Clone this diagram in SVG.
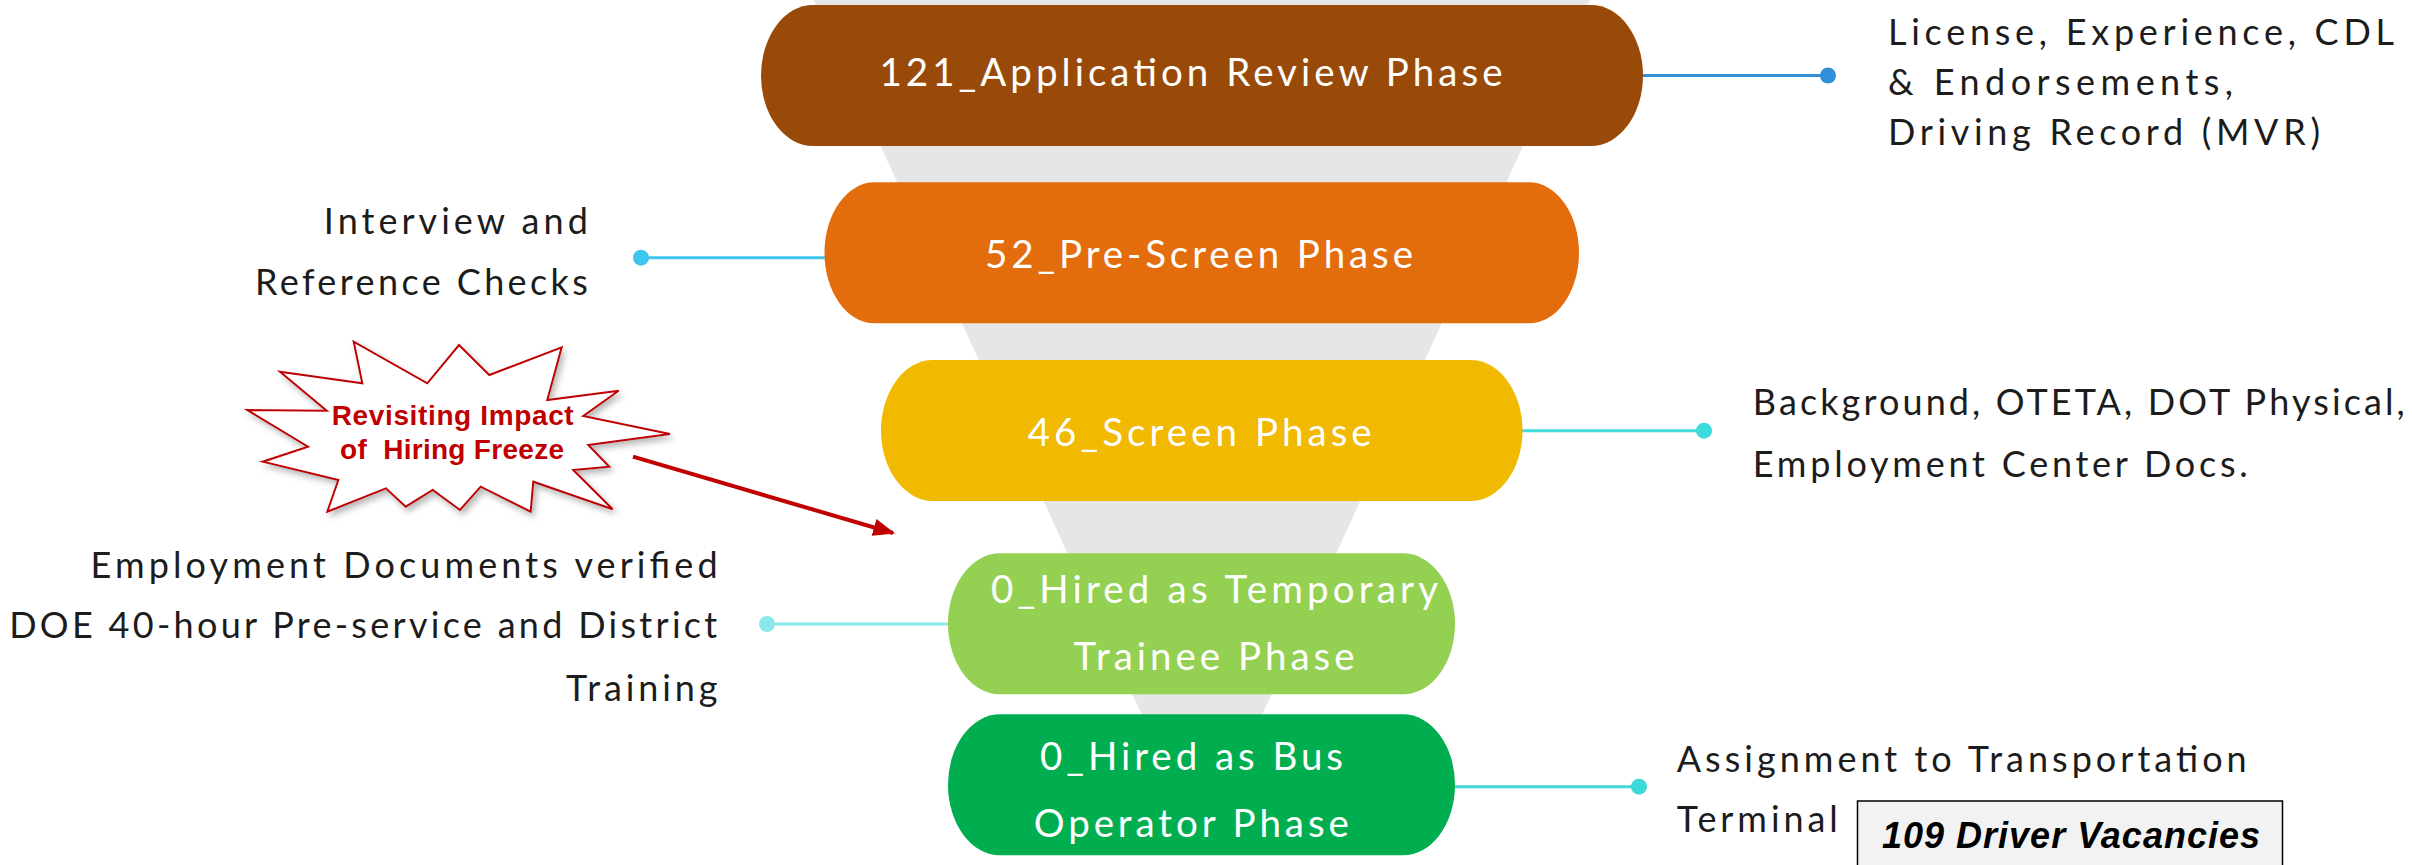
<svg xmlns="http://www.w3.org/2000/svg" width="2412" height="865" viewBox="0 0 2412 865">
<style>
.node-label{font-family:Lato,"Open Sans","DejaVu Sans",sans-serif;font-size:38.5px;fill:#ffffff}
.side{font-family:Lato,"Open Sans","DejaVu Sans",sans-serif;font-size:36px;fill:#1c1c1c}
.burst{font-family:"Liberation Sans",Arial,sans-serif;font-weight:bold;font-size:28px;fill:#c00000}
.vac{font-family:"Liberation Sans",Arial,sans-serif;font-weight:bold;font-style:italic;font-size:36px;fill:#000000}
.conn{stroke-width:3;fill:none}
</style>
<defs>
<marker id="redArrow" viewBox="0 0 10 8" refX="9" refY="4" markerWidth="5.5" markerHeight="4.4" orient="auto" markerUnits="strokeWidth">
<path d="M0,0 L10,4 L0,8 Z" fill="#c00000"/>
</marker>
<filter id="shadow" x="-10%" y="-10%" width="130%" height="130%">
<feDropShadow dx="3" dy="4" stdDeviation="3" flood-color="#7f7f7f" flood-opacity="0.55"/>
</filter>
</defs>
<rect width="2412" height="865" fill="#ffffff"/>
<polygon id="funnel" points="813.5,0 1590,0 1202,846" fill="#e6e6e6"/>
<g id="connectors">
<line class="conn" x1="1643" y1="75.5" x2="1828" y2="75.5" stroke="#2f8fd8"/>
<circle cx="1828" cy="75.5" r="8" fill="#2f8fd8"/>
<line class="conn" x1="825" y1="257.7" x2="641" y2="257.7" stroke="#3fc6ef"/>
<circle cx="641" cy="257.7" r="8" fill="#3fc6ef"/>
<line class="conn" x1="1522" y1="430.7" x2="1704" y2="430.7" stroke="#3ddbdb"/>
<circle cx="1704" cy="430.7" r="8" fill="#3ddbdb"/>
<line class="conn" x1="948" y1="624" x2="767" y2="624" stroke="#8de8ec"/>
<circle cx="767" cy="624" r="8" fill="#8de8ec"/>
<line class="conn" x1="1455" y1="786.7" x2="1639" y2="786.7" stroke="#3dd8d8"/>
<circle cx="1639" cy="786.7" r="8" fill="#3dd8d8"/>
<line x1="633" y1="456.7" x2="893" y2="533" stroke="#c00000" stroke-width="4" marker-end="url(#redArrow)"/>
</g>
<g id="node-application-review">
<rect x="761" y="5" width="882" height="141" rx="52" ry="70.5" fill="#9a4a08"/>
<text class="node-label" x="879.5" y="86" textLength="623">121_Application Review Phase</text>
</g>
<g id="node-pre-screen">
<rect x="824.5" y="182.3" width="754.5" height="141" rx="50" ry="70.5" fill="#e36c0c"/>
<text class="node-label" x="985" y="268.3" textLength="428">52_Pre-Screen Phase</text>
</g>
<g id="node-screen">
<rect x="881" y="360" width="641.5" height="141" rx="52" ry="70.5" fill="#f1b900"/>
<text class="node-label" x="1027.7" y="445.7" textLength="344">46_Screen Phase</text>
</g>
<g id="node-temporary-trainee">
<rect x="948" y="553.3" width="507" height="141" rx="52" ry="70.5" fill="#94d152"/>
<text class="node-label" x="991" y="603.3" textLength="447">0_Hired as Temporary</text>
<text class="node-label" x="1073.5" y="670" textLength="281">Trainee Phase</text>
</g>
<g id="node-bus-operator">
<rect x="948" y="714.3" width="507" height="141" rx="52" ry="70.5" fill="#00ae4f"/>
<text class="node-label" x="1040" y="770" textLength="303">0_Hired as Bus</text>
<text class="node-label" x="1033.8" y="837.3" textLength="315">Operator Phase</text>
</g>
<g id="note-application-review">
<text class="side" x="1888" y="45" textLength="506">License, Experience, CDL</text>
<text class="side" x="1888" y="95" textLength="345">&amp; Endorsements,</text>
<text class="side" x="1888" y="145" textLength="432">Driving Record (MVR)</text>
</g>
<g id="note-pre-screen">
<text class="side" x="323.8" y="234" textLength="264">Interview and</text>
<text class="side" x="254.9" y="295" textLength="333">Reference Checks</text>
</g>
<g id="note-screen">
<text class="side" x="1752.8" y="415" textLength="652">Background, OTETA, DOT Physical,</text>
<text class="side" x="1752.8" y="476.7" textLength="495">Employment Center Docs.</text>
</g>
<g id="note-temporary-trainee">
<text class="side" x="90.6" y="578.3" textLength="627">Employment Documents verified</text>
<text class="side" x="9.2" y="638.3" textLength="708">DOE 40-hour Pre-service and District</text>
<text class="side" x="566" y="700.7" textLength="151.5">Training</text>
</g>
<g id="note-bus-operator">
<text class="side" x="1676.7" y="771.7" textLength="570">Assignment to Transportation</text>
<text class="side" x="1676.7" y="831.7" textLength="161">Terminal</text>
</g>
<g id="vacancies-box">
<rect x="1857.5" y="801" width="425" height="80" fill="#f2f2f2" stroke="#000000" stroke-width="1.5"/>
<text class="vac" x="1882" y="847.7" textLength="378">109 Driver Vacancies</text>
</g>
<g id="hiring-freeze-burst">
<polygon points="280,371.7 362.3,383.3 353.7,341.7 427.3,383.3 459,345 489.3,375 561.7,347.3 547.3,400 618.7,390.7 583.3,416 670,434 588.3,445 609.3,466.7 573.3,470 612.7,509.3 533.3,481.7 530.7,511.7 480.7,486.7 460,510 432.7,490 405.7,506.7 386,488.3 327.3,511.7 338.3,480 262.7,461.7 308,446.7 247.3,410 326.7,410.7" fill="#ffffff" stroke="#c00000" stroke-width="2" stroke-linejoin="miter" filter="url(#shadow)"/>
<text class="burst" x="331.7" y="425" textLength="242">Revisiting Impact</text>
<text class="burst" x="340" y="459.3" textLength="224" xml:space="preserve">of  Hiring Freeze</text>
</g>
</svg>
